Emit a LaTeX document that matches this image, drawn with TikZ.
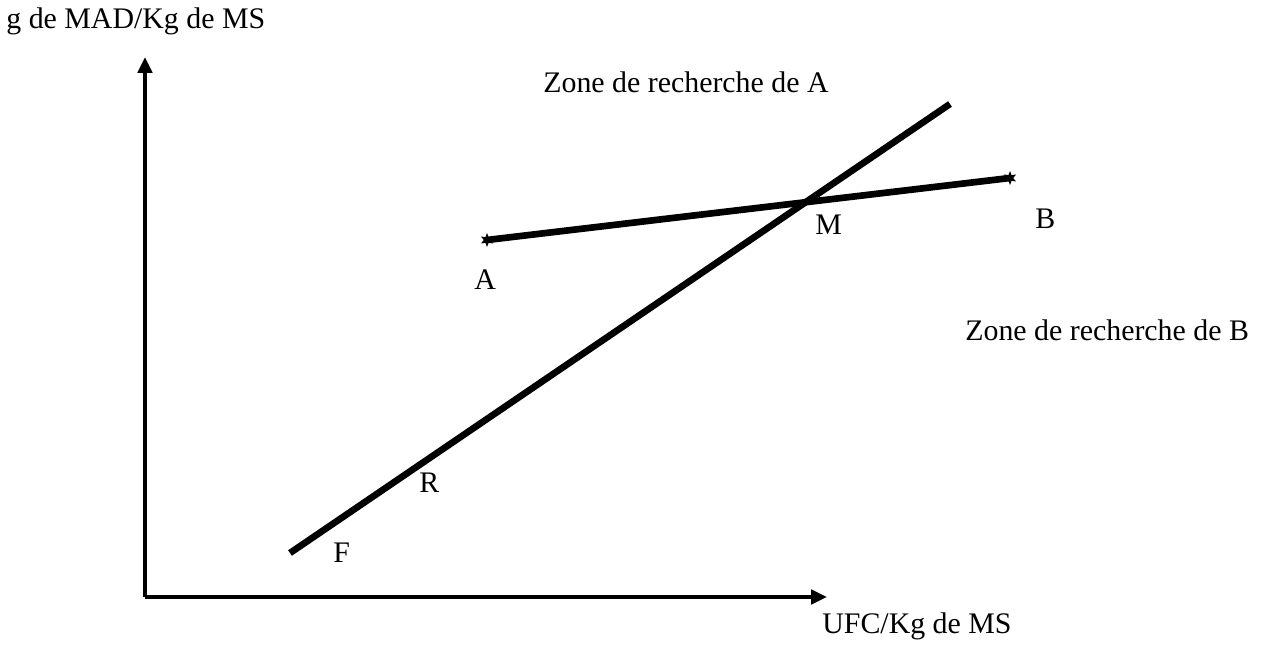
\documentclass[tikz,border=0pt]{standalone}
\usepackage{fontspec}
\setmainfont{Liberation Serif}
\usetikzlibrary{arrows.meta,shapes.geometric}

\begin{document}
\begin{tikzpicture}[x=0.02cm, y=-0.02cm,
    every node/.style={font=\fontsize{17}{20}\selectfont, inner sep=0pt, anchor=base west},
    axis/.style={line width=2.8pt, -{Triangle[length=9pt, width=8pt]}},
    trace/.style={line width=3.8pt},
    endmark/.style={star, star points=6, star point ratio=2.2, fill=black, minimum size=8pt, inner sep=0pt, anchor=center}]
    \useasboundingbox (0,0) rectangle (1274,651);
    % axes
    \coordinate (o) at (145,597);
    \coordinate (ytip) at (145,57);
    \coordinate (xtip) at (827,597);
    \draw[axis] (o) -- (ytip);
    \draw[axis] (o) -- (xtip);
    \node (ylab) at (6,29) {g de MAD/Kg de MS};
    \node (xlab) at (822,633) {UFC/Kg de MS};
    % droites
    \coordinate (f0) at (290,553);
    \coordinate (f1) at (950,104);
    \draw[trace] (f0) -- (f1);
    \node[endmark] (pa) at (487,240) {};
    \node[endmark] (pb) at (1010,178) {};
    \draw[trace] (pa.center) -- (pb.center);
    % etiquettes
    \node (zoneA) at (543,93) {Zone de recherche de A};
    \node (zoneB) at (965,341) {Zone de recherche de B};
    \node (m) at (815,235) {M};
    \node (b) at (1035,229) {B};
    \node (a) at (474,290) {A};
    \node (r) at (419,493) {R};
    \node (f) at (333,562) {F};
\end{tikzpicture}
\end{document}
